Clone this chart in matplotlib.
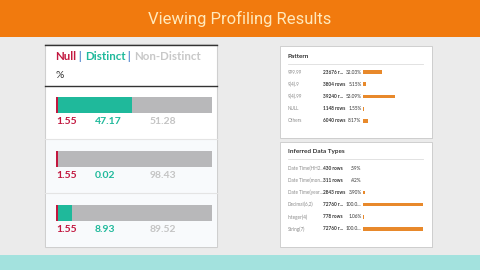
import numpy as np
import matplotlib.pyplot as plt
from matplotlib.patches import Rectangle
from matplotlib.transforms import blended_transform_factory

W, H = 480, 270

title = "Viewing Profiling Results"

# column profile, % of rows
null_pct = np.array([1.55, 1.55, 1.55])
distinct_pct = np.array([47.17, 0.02, 8.93])
non_distinct_pct = np.array([51.28, 98.43, 89.52])

pattern_labels = ["999.99", "9(4).9", "9(4).99", "NULL", "Others"]
pattern_counts = ["23676 r...", "3804 rows", "39240 r...", "1148 rows", "6040 rows"]
pattern_pct = [32.03, 5.15, 53.09, 1.55, 8.17]
pattern_pct_text = ["32.03%", "5.15%", "53.09%", "1.55%", "8.17%"]

type_labels = ["Date Time(HH2...", "Date Time(mon...", "Date Time(year...",
               "Decimal(6,2)", "Integer(4)", "String(7)"]
type_counts = ["430 rows", "311 rows", "2843 rows", "72760 r...", "778 rows", "72760 r..."]
type_pct = [0.59, 0.42, 3.90, 100.0, 1.06, 100.0]
type_pct_text = [".59%", ".42%", "3.90%", "100.0...", "1.06%", "100.0..."]

RED = "#C2173F"
TEAL = "#1FB99B"
GREY = "#B8B8BA"
ORANGE = "#E8892B"
FONT = "Lato"


def box(x0, y0, x1, y1):
    # pixel box (top-left origin) -> figure fraction rect
    return [x0 / W, 1 - y1 / H, (x1 - x0) / W, (y1 - y0) / H]


fig = plt.figure(figsize=(4.8, 2.7), dpi=100, facecolor="#EBEBEB")
bg = fig.add_axes([0, 0, 1, 1])
bg.set_xlim(0, W)
bg.set_ylim(H, 0)
bg.axis("off")

# banner, bottom band and panels
bg.add_patch(Rectangle((0, 0), W, 37, color="#F17A0E", lw=0))
bg.add_patch(Rectangle((0, 255), W, 15, color="#A3E2DE", lw=0))
bg.text(W / 2, 18.5, title, ha="center", va="center", color="#FFE9BC",
        fontsize=12, family="Roboto")

bg.add_patch(Rectangle((45, 44), 172, 203, facecolor="white", edgecolor="#CFCFCF", lw=0.8))
bg.add_patch(Rectangle((45.5, 140), 171, 106.5, facecolor="#F8FAFC", lw=0))
for px, py, pw, ph in [(280, 46, 152, 92), (280, 142, 152, 105)]:
    bg.add_patch(Rectangle((px + 1, py + 1), pw, ph, facecolor="#D2D2D2", lw=0))
    bg.add_patch(Rectangle((px, py), pw, ph, facecolor="white", edgecolor="#C9C9C9", lw=0.6))

# left panel header
bg.plot([45, 217], [45, 45], color="#333333", lw=1)
bg.plot([45, 217], [85.5, 85.5], color="#333333", lw=1)
for y in [139, 193]:
    bg.plot([45, 217], [y, y], color="#E4E4E4", lw=0.8)

parts = [("Null", RED), (" | ", "#5B8FD1"), ("Distinct", TEAL), (" | ", "#5B8FD1"),
         ("Non-Distinct", "#C8C8C8")]
prev = bg.text(55, 56.5, parts[0][0], color=parts[0][1], fontsize=8.3,
               family=FONT, weight="bold", va="center")
for txt, col in parts[1:]:
    prev = bg.annotate(txt, xy=(1, 0), xycoords=prev, va="bottom", color=col,
                       fontsize=8.3, family=FONT, weight="bold")
bg.text(56, 75, "%", color="#333333", fontsize=7.5, family=FONT, va="center")

# left panel stacked bars
ax = fig.add_axes(box(56, 78, 212, 240))
ax.patch.set_alpha(0)
rows = np.arange(len(null_pct))
ax.barh(rows, null_pct, height=0.31, color=RED, lw=0)
ax.barh(rows, distinct_pct, left=null_pct, height=0.31, color=TEAL, lw=0)
ax.barh(rows, non_distinct_pct, left=null_pct + distinct_pct, height=0.31, color=GREY, lw=0)
ax.set_xlim(0, 100)
ax.set_ylim(len(rows) - 0.5, -0.5)
ax.axis("off")
tr = blended_transform_factory(ax.transAxes, ax.transData)
for i in rows:
    for xf, vals, col in [(0.0, null_pct, RED), (0.25, distinct_pct, TEAL),
                          (0.6, non_distinct_pct, "#C4C4C4")]:
        ax.text(xf, i + 0.3, f"{vals[i]:.2f}", transform=tr, color=col, fontsize=7.5,
                family=FONT, weight="bold", va="center")


def detail_panel(title_y, header, y0, y1, labels, counts, pct, pct_text):
    bg.text(288, title_y, header, fontsize=4.6, weight="bold", color="#333333",
            family=FONT, va="center")
    bg.plot([288, 423], [title_y + 8, title_y + 8], color="#DDDDDD", lw=0.6)
    n = len(labels)
    a = fig.add_axes(box(363, y0, 423, y1))
    a.patch.set_alpha(0)
    r = np.arange(n)
    a.barh(r, pct, height=0.3, color=ORANGE, lw=0)
    a.set_xlim(0, 100)
    a.set_ylim(n - 0.5, -0.5)
    a.axis("off")
    t = blended_transform_factory(bg.transData, a.transData)
    for i in r:
        a.text(288, i, labels[i], transform=t, fontsize=3.3, color="#8A8A8A",
               family=FONT, va="center", clip_on=False)
        a.text(323, i, counts[i], transform=t, fontsize=3.4, color="#333333",
               family=FONT, weight="bold", va="center", clip_on=False)
        a.text(361.5, i, pct_text[i], transform=t, fontsize=3.4, color="#333333",
               family=FONT, va="center", ha="right", clip_on=False)


detail_panel(56, "Pattern", 65.9, 127.1, pattern_labels, pattern_counts,
             pattern_pct, pattern_pct_text)
detail_panel(151, "Inferred Data Types", 161.9, 235.1, type_labels, type_counts,
             type_pct, type_pct_text)

fig.savefig("out.png", dpi=100, facecolor=fig.get_facecolor())
